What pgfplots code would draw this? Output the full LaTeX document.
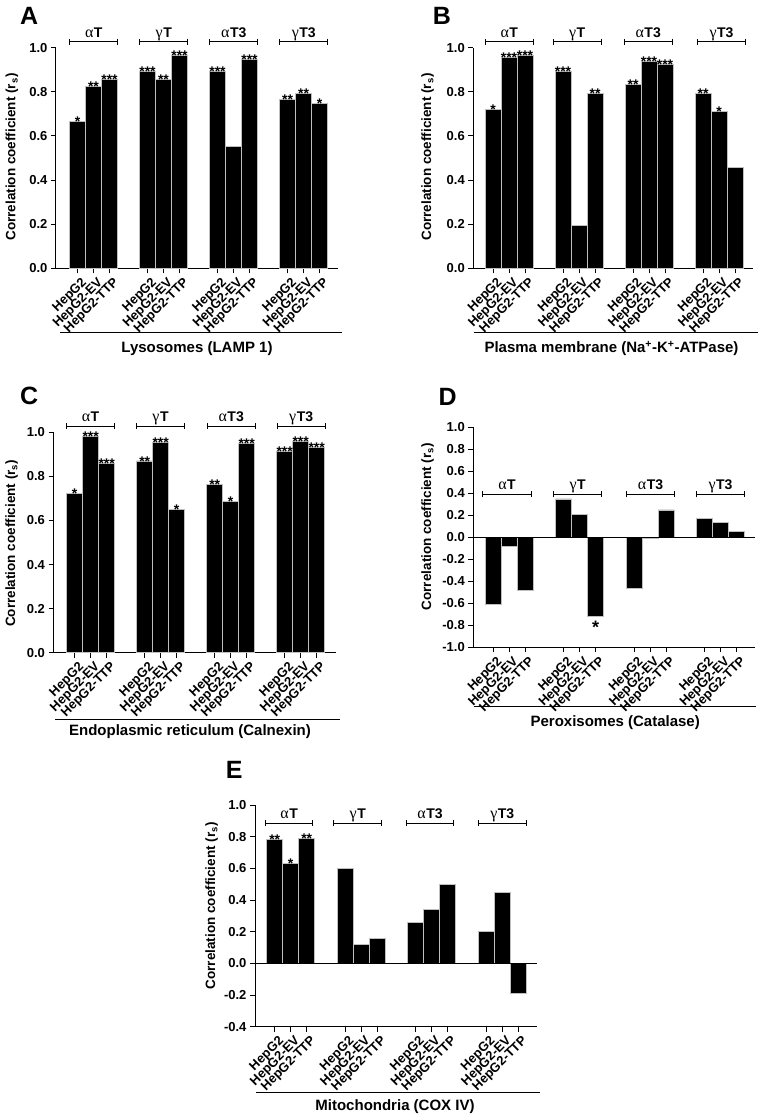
\documentclass[border=0pt]{standalone}
\usepackage{pgfplots}
\pgfplotsset{compat=1.18}
\usepackage{fontspec}
\setmainfont{Liberation Sans}
\newfontfamily\grk{Liberation Serif}
\usetikzlibrary{arrows.meta}
\newcommand{\fs}[1]{\fontsize{#1}{#1}\selectfont}
\newcommand{\grp}[2]{{\grk\fs{16}#1}\kern0.5pt{\fs{14}\bfseries #2}}
\tikzset{brk/.style={line width=1pt, {Bar[width=6pt]}-{Bar[width=6pt]}}}
\pgfplotsset{
  panel/.style={
    scale only axis, clip=false,
    axis x line*=bottom, axis y line*=left,
    axis line style={-, line width=1pt},
    tick align=outside, major tick length=5pt,
    every tick/.style={black, line width=1pt},
    ybar, bar width=16,
    xtick=data,
    xticklabels={HepG2,HepG2-EV,HepG2-TTP,HepG2,HepG2-EV,HepG2-TTP,HepG2,HepG2-EV,HepG2-TTP,HepG2,HepG2-EV,HepG2-TTP},
    x tick label style={xshift=3pt, yshift=-3pt, rotate=45, anchor=north east, font=\bfseries\fs{13}, inner sep=0pt},
    y tick label style={font=\bfseries\fs{13}},
    /pgf/number format/.cd, fixed, fixed zerofill, precision=1, assume math mode=true,
    /pgfplots/.cd,
    anchor=south west,
    nodes near coords,
    point meta=explicit symbolic,
    every node near coord/.append style={font=\bfseries\fs{14}, inner sep=0pt, yshift=-5.5pt},
  },
  barstyle/.style={fill=black, draw=white!75!black, line width=0.5pt},
}
\newcommand{\ylab}{Correlation coefficient (r\textsubscript{s})}
\begin{document}
\begin{tikzpicture}
\useasboundingbox (0,0) rectangle (762pt,-1115pt);

% ---------------- A ----------------
\begin{axis}[panel, at={(56pt,-268.3pt)}, width=282.3pt, height=220.6pt,
  xmin=56, xmax=338.3, ymin=0, ymax=1, ytick={0,0.2,0.4,0.6,0.8,1.0}]
\addplot[barstyle] coordinates {
 (77.5,0.665) [*] (93.5,0.823) [**] (109.5,0.858) [***]
 (147.5,0.894) [***] (163.5,0.858) [**] (179.5,0.967) [***]
 (217.5,0.894) [***] (233.5,0.551) [\relax] (249.5,0.947) [***]
 (287.5,0.767) [**] (303.5,0.793) [**] (319.5,0.748) [*]
};
\draw[brk] (axis cs:69.3,1.027) -- (axis cs:118.3,1.027);
\draw[brk] (axis cs:139.3,1.027) -- (axis cs:188.3,1.027);
\draw[brk] (axis cs:209.3,1.027) -- (axis cs:258.3,1.027);
\draw[brk] (axis cs:279.3,1.027) -- (axis cs:328.3,1.027);
\node[anchor=base] at (axis cs:93.8,1.0476) {\grp{α}{T}};
\node[anchor=base] at (axis cs:163.8,1.0476) {\grp{γ}{T}};
\node[anchor=base] at (axis cs:233.8,1.0476) {\grp{α}{T3}};
\node[anchor=base] at (axis cs:303.8,1.0476) {\grp{γ}{T3}};
\draw[line width=1pt] (axis cs:60,-0.289) -- (axis cs:342,-0.289);
\node[anchor=base, font=\bfseries\fs{15}] at (axis cs:197,-0.3826) {Lysosomes (LAMP 1)};
\node[anchor=base west, inner sep=0pt, font=\bfseries\fs{25}] at (axis cs:20,1.103) {A};
\node[rotate=90, font=\bfseries\fs{13.5}] at (axis cs:12,0.5045) {\ylab};
\end{axis}

% ---------------- B ----------------
\begin{axis}[panel, at={(473.3pt,-268.3pt)}, width=280pt, height=220.6pt,
  xmin=473.3, xmax=753.3, ymin=0, ymax=1, ytick={0,0.2,0.4,0.6,0.8,1.0}]
\addplot[barstyle] coordinates {
 (493,0.72) [*] (509,0.956) [***] (525,0.967) [***]
 (563,0.894) [***] (579,0.193) [\relax] (595,0.792) [**]
 (633,0.835) [**] (649,0.938) [***] (665,0.927) [***]
 (703,0.792) [**] (719,0.71) [*] (735,0.458) [\relax]
};
\draw[brk] (axis cs:485,1.027) -- (axis cs:533.7,1.027);
\draw[brk] (axis cs:552.7,1.027) -- (axis cs:601.7,1.027);
\draw[brk] (axis cs:623.7,1.027) -- (axis cs:672.7,1.027);
\draw[brk] (axis cs:697,1.027) -- (axis cs:746,1.027);
\node[anchor=base] at (axis cs:509.3,1.0476) {\grp{α}{T}};
\node[anchor=base] at (axis cs:577.2,1.0476) {\grp{γ}{T}};
\node[anchor=base] at (axis cs:648.2,1.0476) {\grp{α}{T3}};
\node[anchor=base] at (axis cs:721.5,1.0476) {\grp{γ}{T3}};
\draw[line width=1pt] (axis cs:473.7,-0.289) -- (axis cs:757.7,-0.289);
\node[anchor=base, font=\bfseries\fs{15}] at (axis cs:611.5,-0.3826) {Plasma membrane (Na\textsuperscript{+}-K\textsuperscript{+}-ATPase)};
\node[anchor=base west, inner sep=0pt, font=\bfseries\fs{25}] at (axis cs:432.7,1.103) {B};
\node[rotate=90, font=\bfseries\fs{13.5}] at (axis cs:427.7,0.5045) {\ylab};
\end{axis}

% ---------------- C ----------------
\begin{axis}[panel, at={(53.5pt,-652.7pt)}, width=282.5pt, height=220.4pt,
  xmin=53.5, xmax=336, ymin=0, ymax=1, ytick={0,0.2,0.4,0.6,0.8,1.0}]
\addplot[barstyle] coordinates {
 (74.7,0.723) [*] (90.7,0.98) [***] (106.7,0.859) [***]
 (144.7,0.87) [**] (160.7,0.953) [***] (176.7,0.65) [*]
 (214.7,0.764) [**] (230.7,0.687) [*] (246.7,0.95) [***]
 (284.7,0.915) [***] (300.7,0.961) [***] (316.7,0.933) [***]
};
\draw[brk] (axis cs:66,1.0286) -- (axis cs:115,1.0286);
\draw[brk] (axis cs:136,1.0286) -- (axis cs:185,1.0286);
\draw[brk] (axis cs:206.7,1.0286) -- (axis cs:255.7,1.0286);
\draw[brk] (axis cs:276.7,1.0286) -- (axis cs:325.7,1.0286);
\node[anchor=base] at (axis cs:90.5,1.049) {\grp{α}{T}};
\node[anchor=base] at (axis cs:160.5,1.049) {\grp{γ}{T}};
\node[anchor=base] at (axis cs:231.2,1.049) {\grp{α}{T3}};
\node[anchor=base] at (axis cs:301.2,1.049) {\grp{γ}{T3}};
\draw[line width=1pt] (axis cs:55,-0.3008) -- (axis cs:340,-0.3008);
\node[anchor=base, font=\bfseries\fs{15}] at (axis cs:190,-0.3766) {Endoplasmic reticulum (Calnexin)};
\node[anchor=base west, inner sep=0pt, font=\bfseries\fs{25}] at (axis cs:20,1.1239) {C};
\node[rotate=90, font=\bfseries\fs{13.5}] at (axis cs:11.7,0.4964) {\ylab};
\end{axis}

% ---------------- D ----------------
\begin{axis}[panel, at={(473.3pt,-647.3pt)}, width=281.7pt, height=220pt,
  xmin=473.3, xmax=755, ymin=-1, ymax=1,
  ytick={-1.0,-0.8,-0.6,-0.4,-0.2,0,0.2,0.4,0.6,0.8,1.0},
  every node near coord/.append style={anchor=north, font=\bfseries\fs{18}, yshift=1pt}]
\addplot[barstyle] coordinates {
 (493,-0.609) [\relax] (509,-0.084) [\relax] (525,-0.48) [\relax]
 (563.5,0.35) [\relax] (579.5,0.211) [\relax] (595.5,-0.715) [*]
 (634,-0.459) [\relax] (650,-0.012) [\relax] (666,0.25) [\relax]
 (704.5,0.175) [\relax] (720.5,0.139) [\relax] (736.5,0.057) [\relax]
};
\draw[line width=1pt] (axis cs:473.3,0) -- (axis cs:755,0);
\draw[brk] (axis cs:482,0.391) -- (axis cs:532,0.391);
\draw[brk] (axis cs:553.3,0.391) -- (axis cs:602,0.391);
\draw[brk] (axis cs:626,0.391) -- (axis cs:675,0.391);
\draw[brk] (axis cs:696,0.391) -- (axis cs:745,0.391);
\node[anchor=base] at (axis cs:507,0.432) {\grp{α}{T}};
\node[anchor=base] at (axis cs:577.7,0.432) {\grp{γ}{T}};
\node[anchor=base] at (axis cs:650.5,0.432) {\grp{α}{T3}};
\node[anchor=base] at (axis cs:720.5,0.432) {\grp{γ}{T3}};
\draw[line width=1pt] (axis cs:473.7,-1.54) -- (axis cs:756,-1.54);
\node[anchor=base, font=\bfseries\fs{15}] at (axis cs:615.2,-1.7218) {Peroxisomes (Catalase)};
\node[anchor=base west, inner sep=0pt, font=\bfseries\fs{25}] at (axis cs:438.3,1.2027) {D};
\node[rotate=90, font=\bfseries\fs{13.5}] at (axis cs:427.7,0.096) {\ylab};
\end{axis}

% ---------------- E ----------------
\begin{axis}[panel, at={(255pt,-1026.7pt)}, width=282.3pt, height=221.7pt,
  xmin=255, xmax=537.3, ymin=-0.4, ymax=1,
  ytick={-0.4,-0.2,0,0.2,0.4,0.6,0.8,1.0}]
\addplot[barstyle] coordinates {
 (274.7,0.781) [**] (290.7,0.633) [*] (306.7,0.788) [**]
 (345,0.598) [\relax] (361,0.122) [\relax] (377,0.158) [\relax]
 (415.3,0.26) [\relax] (431.3,0.34) [\relax] (447.3,0.498) [\relax]
 (486,0.203) [\relax] (502,0.45) [\relax] (518,-0.186) [\relax]
};
\draw[line width=1pt] (axis cs:255,0) -- (axis cs:537.3,0);
\draw[brk] (axis cs:265,0.884) -- (axis cs:313.3,0.884);
\draw[brk] (axis cs:333.3,0.884) -- (axis cs:382.3,0.884);
\draw[brk] (axis cs:405.7,0.884) -- (axis cs:454.3,0.884);
\draw[brk] (axis cs:477.7,0.884) -- (axis cs:526.7,0.884);
\node[anchor=base] at (axis cs:289.2,0.912) {\grp{α}{T}};
\node[anchor=base] at (axis cs:357.8,0.912) {\grp{γ}{T}};
\node[anchor=base] at (axis cs:430,0.912) {\grp{α}{T3}};
\node[anchor=base] at (axis cs:502.2,0.912) {\grp{γ}{T3}};
\draw[line width=1pt] (axis cs:256,-0.817) -- (axis cs:540,-0.817);
\node[anchor=base, font=\bfseries\fs{15}] at (axis cs:395,-0.9306) {Mitochondria (COX IV)};
\node[anchor=base west, inner sep=0pt, font=\bfseries\fs{25}] at (axis cs:225.7,1.168) {E};
\node[rotate=90, font=\bfseries\fs{13.5}] at (axis cs:211.7,0.363) {\ylab};
\end{axis}
\end{tikzpicture}
\end{document}
